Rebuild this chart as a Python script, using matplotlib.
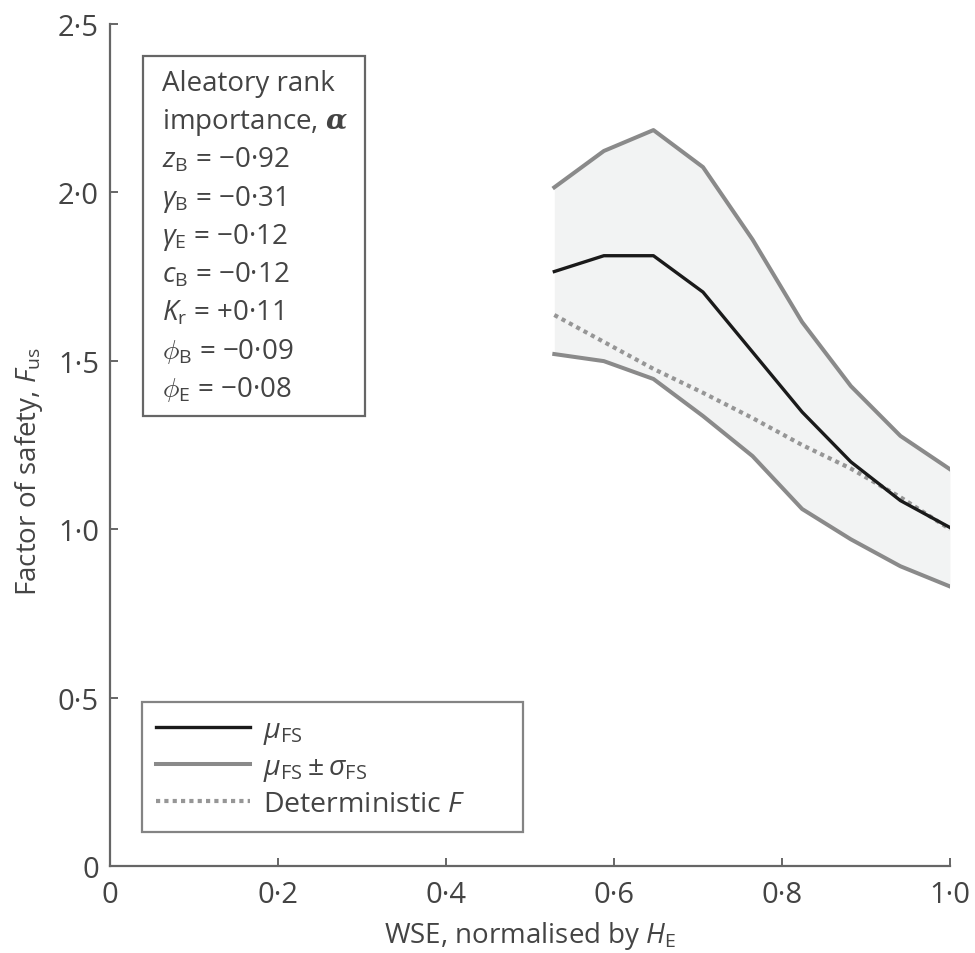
"""Factor of safety vs normalised WSE, with mean +/- std band and deterministic F."""
import matplotlib
matplotlib.use("Agg")
import matplotlib.pyplot as plt
from matplotlib.patches import Rectangle
from matplotlib.ticker import FuncFormatter

plt.rcParams['font.family'] = ['Open Sans', 'DejaVu Sans']
plt.rcParams['mathtext.fontset'] = 'custom'
plt.rcParams['mathtext.rm'] = 'Open Sans'
plt.rcParams['mathtext.it'] = 'Open Sans:italic'
plt.rcParams['mathtext.bf'] = 'Open Sans:bold'
plt.rcParams['mathtext.bfit'] = 'DejaVu Serif:italic:bold'

TXT = '#444444'
AX = '#666666'

# --------------------- DATOS --------------------- #
wse = [0.529, 0.588, 0.647, 0.706, 0.765, 0.824, 0.882, 0.941, 1.0]
fs_mean = [1.765, 1.812, 1.812, 1.704, 1.526, 1.348, 1.200, 1.085, 1.005]
fs_upper = [2.015, 2.123, 2.185, 2.075, 1.86, 1.615, 1.425, 1.277, 1.178]
fs_lower = [1.520, 1.499, 1.446, 1.336, 1.217, 1.060, 0.970, 0.890, 0.830]
fs_det = [1.636, 1.556, 1.476, 1.405, 1.330, 1.250, 1.180, 1.095, 1.0]

importance_lines = [
    "Aleatory rank",
    r"importance, $\boldsymbol{\alpha}$",
    r"$z_\mathrm{B}$ = −0·92",
    r"$\gamma_\mathrm{B}$ = −0·31",
    r"$\gamma_\mathrm{E}$ = −0·12",
    r"$c_\mathrm{B}$ = −0·12",
    r"$K_\mathrm{r}$ = +0·11",
    r"$\phi_\mathrm{B}$ = −0·09",
    r"$\phi_\mathrm{E}$ = −0·08",
]

# --------------------- FIGURA --------------------- #
fig = plt.figure(figsize=(9.75, 9.54), dpi=100)
ax = fig.add_axes([0.1128, 0.0912, 0.8615, 0.8826])

ax.fill_between(wse, fs_lower, fs_upper, color='#f2f3f3', lw=0, zorder=1)
ax.plot(wse, fs_mean, color='#1a1a1a', lw=2.4, label=r"$\mu_\mathrm{FS}$", zorder=4)
ax.plot(wse, fs_upper, color='#8a8a8a', lw=2.9, label=r"$\mu_\mathrm{FS} \pm \sigma_\mathrm{FS}$", zorder=3)
ax.plot(wse, fs_lower, color='#8a8a8a', lw=2.9, zorder=3)
ax.plot(wse, fs_det, color='#969696', lw=3.0, ls=(0, (1, 1.0)), label=r"Deterministic $F$", zorder=3)

ax.set_xlim(0, 1.0)
ax.set_ylim(0, 2.5)
ax.set_xticks([0, 0.2, 0.4, 0.6, 0.8, 1.0])
ax.set_yticks([0, 0.5, 1.0, 1.5, 2.0, 2.5])

fmt = FuncFormatter(lambda v, p: '0' if abs(v) < 1e-9 else f"{v:.1f}".replace('.', '·'))
ax.xaxis.set_major_formatter(fmt)
ax.yaxis.set_major_formatter(fmt)

for s in ['top', 'right']:
    ax.spines[s].set_visible(False)
for s in ['left', 'bottom']:
    ax.spines[s].set_color(AX)
    ax.spines[s].set_linewidth(1.6)
ax.tick_params(direction='in', length=6, width=1.4, color=AX, labelcolor=TXT, labelsize=21)
ax.tick_params(axis='y', pad=8)
ax.tick_params(axis='x', pad=10)

ax.set_xlabel(r"WSE, normalised by $H_\mathrm{E}$", fontsize=20, color=TXT)
ax.set_ylabel(r"Factor of safety, $F_\mathrm{us}$", fontsize=20, color=TXT)
ax.xaxis.set_label_coords(0.5, -0.063)
ax.yaxis.set_label_coords(-0.077, 0.47)

# Caja de importancia
ax.add_patch(Rectangle((0.039, 0.535), 0.265, 0.427, transform=ax.transAxes,
                       fill=False, edgecolor=AX, lw=1.6, zorder=5))
y0 = 0.9216
for i, line in enumerate(importance_lines):
    ax.text(0.062, y0 - i * 0.0455, line, transform=ax.transAxes, fontsize=20,
            color=TXT, va='baseline', ha='left', zorder=6)

leg = ax.legend(loc='lower left', bbox_to_anchor=(0.038, 0.040, 0.454, 0.155), mode='expand',
                fontsize=20.5, frameon=True, fancybox=False, handlelength=3.3,
                handletextpad=0.45, labelspacing=0.25, borderpad=0.5, borderaxespad=0)
leg.get_frame().set_edgecolor(AX)
leg.get_frame().set_linewidth(1.6)
for t in leg.get_texts():
    t.set_color(TXT)

fig.savefig("out.png", dpi=100)
